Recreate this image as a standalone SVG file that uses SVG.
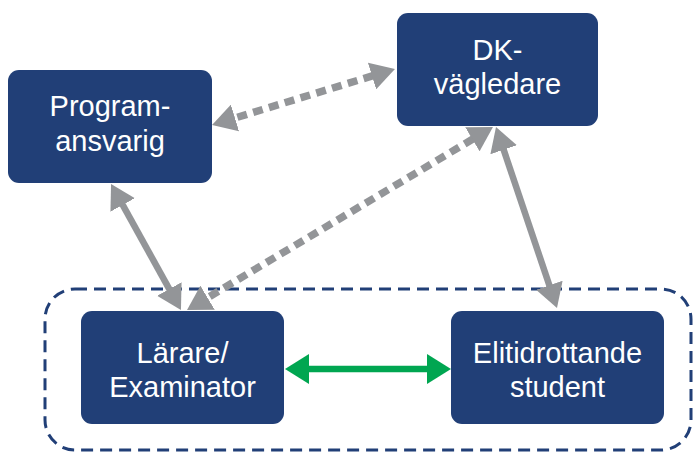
<svg xmlns="http://www.w3.org/2000/svg" width="696" height="453" viewBox="0 0 696 453">
  <style>
    .box { fill: #213f77; }
    .lbl { fill: #ffffff; font-family: "Liberation Sans", Arial, sans-serif; font-size: 29px; text-anchor: middle; }
    .gray { stroke: #939598; stroke-width: 6.5; fill: none; marker-start: url(#ga); marker-end: url(#ga); }
    .dash { stroke-dasharray: 10 6.5; stroke-width: 7.5; }
    .green { stroke: #00a651; stroke-width: 6.5; fill: none; marker-start: url(#gr); marker-end: url(#gr); }
    .group { fill: none; stroke: #213f77; stroke-width: 3; stroke-dasharray: 12 7; }
  </style>
  <defs>
    <marker id="ga" markerUnits="userSpaceOnUse" markerWidth="24" markerHeight="28" viewBox="0 0 24 28" refX="14" refY="14" orient="auto-start-reverse">
      <path d="M0,0 L24,14 L0,28 z" fill="#939598"/>
    </marker>
    <marker id="gr" markerUnits="userSpaceOnUse" markerWidth="24" markerHeight="30" viewBox="0 0 24 30" refX="14" refY="15" orient="auto-start-reverse">
      <path d="M0,0 L24,15 L0,30 z" fill="#00a651"/>
    </marker>
  </defs>

  <rect id="group" class="group" x="45" y="289" width="646" height="161" rx="30"/>

  <g id="connectors">
    <line class="gray dash" x1="221.6" y1="122.1" x2="385.4" y2="71.9"/>
    <line class="gray" x1="115.9" y1="192.7" x2="176.1" y2="301.3"/>
    <line class="gray dash" x1="195.6" y1="304.9" x2="484.4" y2="132.1"/>
    <line class="gray" x1="499.2" y1="136.5" x2="553.8" y2="298.5"/>
    <line class="green" x1="295" y1="369" x2="441" y2="369"/>
  </g>

  <g id="programansvarig">
    <rect class="box" x="8" y="70" width="204" height="113" rx="11"/>
    <text class="lbl" x="110" y="116">Program-</text>
    <text class="lbl" x="110" y="151">ansvarig</text>
  </g>

  <g id="dk-vagledare">
    <rect class="box" x="397" y="13" width="201" height="113" rx="11"/>
    <text class="lbl" x="497.5" y="60">DK-</text>
    <text class="lbl" x="497.5" y="94">vägledare</text>
  </g>

  <g id="larare">
    <rect class="box" x="81" y="311" width="203" height="113" rx="11"/>
    <text class="lbl" x="182.5" y="363">Lärare/</text>
    <text class="lbl" x="182.5" y="397">Examinator</text>
  </g>

  <g id="elitidrottande">
    <rect class="box" x="451" y="311" width="213" height="113" rx="11"/>
    <text class="lbl" x="557.5" y="363">Elitidrottande</text>
    <text class="lbl" x="557.5" y="397">student</text>
  </g>
</svg>
